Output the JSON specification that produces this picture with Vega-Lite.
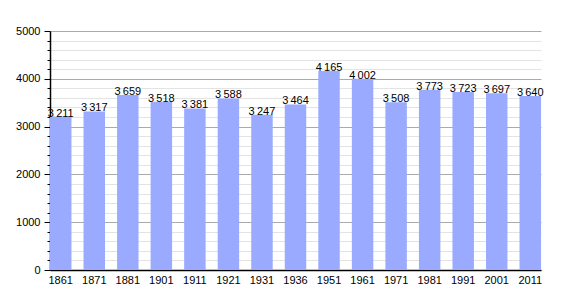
{
  "$schema": "https://vega.github.io/schema/vega-lite/v6.json",
  "autosize": "none",
  "width": 491,
  "height": 239,
  "padding": {"left": 50, "top": 31, "right": 29, "bottom": 30},
  "background": "white",
  "config": {
    "locale": {"number": {"decimal": ",", "thousands": "\u2009", "grouping": [3], "currency": ["", " €"]}},
    "view": {"stroke": null},
    "font": "Liberation Sans"
  },
  "data": {"values": [
    {"year": "1861", "pop": 3211},
    {"year": "1871", "pop": 3317},
    {"year": "1881", "pop": 3659},
    {"year": "1901", "pop": 3518},
    {"year": "1911", "pop": 3381},
    {"year": "1921", "pop": 3588},
    {"year": "1931", "pop": 3247},
    {"year": "1936", "pop": 3464},
    {"year": "1951", "pop": 4165},
    {"year": "1961", "pop": 4002},
    {"year": "1971", "pop": 3508},
    {"year": "1981", "pop": 3773},
    {"year": "1991", "pop": 3723},
    {"year": "2001", "pop": 3697},
    {"year": "2011", "pop": 3640}
  ]},
  "encoding": {
    "x": {"field": "year", "type": "ordinal", "sort": null,
      "scale": {"paddingInner": 0.36, "paddingOuter": 0},
      "axis": {"title": null, "labelAngle": 0, "labelFontSize": 11, "labelColor": "black", "domainColor": "black", "domainWidth": 1.5, "ticks": false, "labelPadding": 4}},
    "y": {"field": "pop", "type": "quantitative",
      "scale": {"domain": [0, 5000], "nice": false},
      "axis": {"title": null, "values": [0,200,400,600,800,1000,1200,1400,1600,1800,2000,2200,2400,2600,2800,3000,3200,3400,3600,3800,4000,4200,4400,4600,4800,5000],
        "format": "d",
        "labelExpr": "datum.value % 1000 === 0 ? datum.label : ''",
        "labelFontSize": 11, "labelColor": "black", "labelPadding": 4,
        "domainColor": "black", "domainWidth": 1.5,
        "tickColor": "black",
        "tickSize": {"condition": {"test": "datum.value % 1000 === 0", "value": 6}, "value": 3},
        "grid": true,
        "gridColor": {"condition": {"test": "datum.value % 1000 === 0", "value": "#aaaaaa"}, "value": "#e3e3e3"},
        "gridWidth": 1}}
  },
  "layer": [
    {"mark": {"type": "bar", "color": "#99aaff", "align": "left"}},
    {"mark": {"type": "text", "baseline": "bottom", "dy": 2, "fontSize": 11, "color": "black"},
     "encoding": {"text": {"field": "pop", "type": "quantitative", "format": ",d"}}}
  ]
}
